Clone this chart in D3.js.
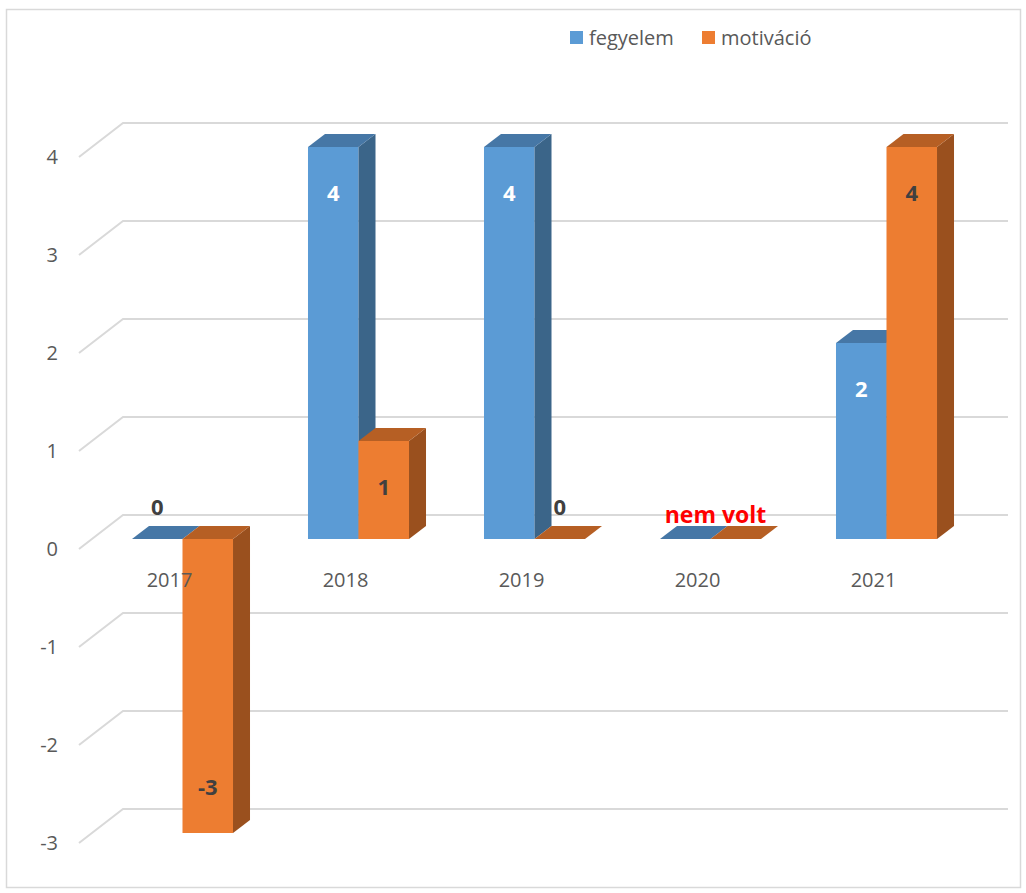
<!DOCTYPE html>
<html>
<head>
<meta charset="utf-8">
<script src="https://cdn.jsdelivr.net/npm/d3@7"></script>
<style>
  body { margin: 0; background: #fff; }
  svg { display: block; font-family: "Open Sans", sans-serif; }
</style>
</head>
<body>
<div id="container"></div>
<script>
// chart data
const years = ["2017", "2018", "2019", "2020", "2021"];
const seriesNames = ["fegyelem", "motiváció"];
const fegyelem = [0, 4, 4, 0, 2];
const motivacio = [-3, 1, 0, 0, 4];
const yTicks = [-3, -2, -1, 0, 1, 2, 3, 4];
// 2020 has no real data, just a note
const noteYear = "2020";
const noteText = "nem volt";

const width = 1026;
const height = 893;

// bar colours: front, top, side
const colors = {
  fegyelem: { front: "#5b9bd5", top: "#4677a6", side: "#3b6589" },
  "motiváció": { front: "#ed7d31", top: "#b65f24", side: "#9a501e" },
};

// 3d depth of bars and of the grid wall
const DX = 17, DY = 13;

const svg = d3
  .select("#container")
  .append("svg")
  .attr("width", width)
  .attr("height", height);

// chart border
svg
  .append("rect")
  .attr("x", 6.5)
  .attr("y", 9.5)
  .attr("width", 1014)
  .attr("height", 878)
  .attr("fill", "#fff")
  .attr("stroke", "#d9d9d9")
  .attr("stroke-width", 1.5);

// scales
var x = d3
  .scaleBand()
  .domain(years)
  .range([94.5, 974.5])
  .paddingInner(0.426)
  .paddingOuter(0.213);

var xSub = d3.scaleBand().domain(seriesNames).range([0, x.bandwidth()]);

var y = d3.scaleLinear().domain([-3, 4]).range([833, 147]);

// gridlines on the back wall, with the slanted piece on the left side wall
svg
  .append("g")
  .selectAll("path")
  .data(yTicks)
  .enter()
  .append("path")
  .attr("fill", "none")
  .attr("stroke", "#d9d9d9")
  .attr("stroke-width", 2)
  .attr("d", (d) => {
    var yy = y(d);
    return "M79," + (yy + 10) + "L123," + (yy - 24) + "L1008," + (yy - 24);
  });

// y axis labels
var yAxis = d3
  .axisLeft(y)
  .tickValues(yTicks)
  .tickFormat((d) => String(d))
  .tickSize(0)
  .tickPadding(0);
var gAxis = svg.append("g").attr("transform", "translate(58,10)").call(yAxis);
gAxis.select(".domain").remove();
gAxis
  .selectAll("text")
  .attr("fill", "#595959")
  .style("font-size", "20px")
  .style("font-family", "'Open Sans', sans-serif");

// bars
var rows = [];
years.forEach((yr, i) => {
  rows.push({ year: yr, series: "fegyelem", value: fegyelem[i] });
  rows.push({ year: yr, series: "motiváció", value: motivacio[i] });
});

var gBars = svg.append("g");
rows.forEach((d) => {
  var x0 = x(d.year) + xSub(d.series);
  var x1 = x0 + xSub.bandwidth();
  var top = Math.min(y(0), y(d.value));
  var bottom = Math.max(y(0), y(d.value));
  var c = colors[d.series];
  var g = gBars.append("g");

  if (bottom - top > 0) {
    g.append("rect")
      .attr("x", x0)
      .attr("y", top)
      .attr("width", x1 - x0)
      .attr("height", bottom - top)
      .attr("fill", c.front);
    g.append("path")
      .attr("fill", c.side)
      .attr(
        "d",
        "M" + x1 + "," + top +
          "L" + (x1 + DX) + "," + (top - DY) +
          "L" + (x1 + DX) + "," + (bottom - DY) +
          "L" + x1 + "," + bottom + "Z"
      );
  }
  g.append("path")
    .attr("fill", c.top)
    .attr(
      "d",
      "M" + x0 + "," + top +
        "L" + (x0 + DX) + "," + (top - DY) +
        "L" + (x1 + DX) + "," + (top - DY) +
        "L" + x1 + "," + top + "Z"
    );
});

// data labels
svg
  .append("g")
  .selectAll("text")
  .data(rows.filter((d) => d.year !== noteYear))
  .enter()
  .append("text")
  .attr("x", (d) => x(d.year) + xSub(d.series) + xSub.bandwidth() / 2)
  .attr("y", (d) => {
    if (d.value === 0) return y(0) - 32;
    return d.value > 0 ? y(d.value) + 46 : y(d.value) - 46;
  })
  .attr("dy", "0.36em")
  .attr("text-anchor", "middle")
  .style("font-size", "22px")
  .style("font-weight", "bold")
  .attr("fill", (d) =>
    d.series === "fegyelem" && d.value !== 0 ? "#ffffff" : "#404040"
  )
  .text((d) => String(d.value));

// note for the missing year
svg
  .append("text")
  .attr("x", x(noteYear) + x.bandwidth() / 2 + 5)
  .attr("y", y(0) - 16)
  .attr("text-anchor", "middle")
  .style("font-size", "23px")
  .style("font-weight", "bold")
  .attr("fill", "#ff0000")
  .text(noteText);

// category labels
svg
  .append("g")
  .selectAll("text")
  .data(years)
  .enter()
  .append("text")
  .attr("x", (d) => x(d) + x.bandwidth() / 2 - 13)
  .attr("y", 587)
  .attr("text-anchor", "middle")
  .style("font-size", "20px")
  .attr("fill", "#595959")
  .text((d) => d);

// legend
var legendX = [570, 702];
var legend = svg
  .append("g")
  .selectAll("g")
  .data(seriesNames)
  .enter()
  .append("g")
  .attr("transform", (d, i) => "translate(" + legendX[i] + ",31)");
legend
  .append("rect")
  .attr("width", 13)
  .attr("height", 13)
  .attr("fill", (d) => colors[d].front);
legend
  .append("text")
  .attr("x", 19)
  .attr("y", 14)
  .style("font-size", "20px")
  .attr("fill", "#595959")
  .text((d) => d);
</script>
</body>
</html>
